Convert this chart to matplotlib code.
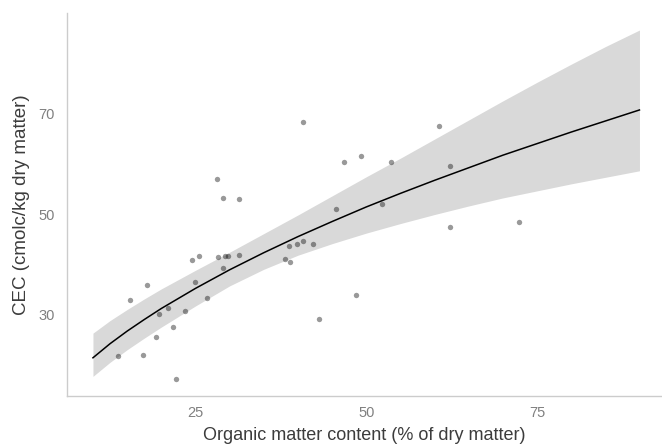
import matplotlib
matplotlib.use("Agg")
import matplotlib.pyplot as plt

# observed points: organic matter (% dry matter) vs CEC (cmolc/kg dry matter)
om = [13.65, 17.31, 15.37, 17.89, 19.21, 19.62, 21.04, 21.70, 22.18, 23.50,
      24.48, 25.59, 24.92, 26.69, 28.33, 29.11, 29.39, 29.82, 31.41, 28.23,
      29.02, 31.36, 40.73, 38.07, 38.65, 38.87, 39.94, 40.75, 42.14, 43.05,
      45.65, 46.68, 49.27, 48.46, 52.30, 53.70, 60.59, 62.20, 62.20, 72.44]
cec = [21.69, 22.05, 32.82, 35.81, 25.63, 30.08, 31.27, 27.50, 17.18, 30.80,
       40.87, 41.71, 36.50, 33.38, 41.41, 39.34, 41.57, 41.71, 41.93, 56.92,
       53.20, 53.06, 68.31, 41.13, 43.66, 40.42, 44.12, 44.65, 44.12, 29.15,
       51.01, 60.42, 61.55, 33.92, 52.01, 60.42, 67.51, 59.50, 47.38, 48.43]

# fitted curve and confidence band
fit_x = [10, 12.5, 15, 17.5, 20, 25, 30, 35, 40, 45, 50, 55, 60, 65, 70,
         75, 80, 85, 90]
fit_y = [21.4, 24.2, 26.7, 29.0, 31.2, 35.2, 38.9, 42.3, 45.5, 48.5, 51.4,
         54.1, 56.7, 59.2, 61.7, 64.0, 66.3, 68.5, 70.7]
band_hi = [26.3, 28.8, 31.0, 33.1, 35.1, 38.8, 42.4, 46.1, 49.8, 53.6, 57.4,
           61.1, 64.9, 68.7, 72.5, 76.2, 79.8, 83.3, 86.6]
band_lo = [17.7, 20.5, 23.0, 25.3, 27.5, 31.7, 35.7, 39.0, 41.8, 44.1, 46.2,
           48.1, 49.9, 51.6, 53.2, 54.6, 56.0, 57.3, 58.6]

x_ticks = [25, 50, 75]
y_ticks = [30, 50, 70]

plt.rcParams["font.family"] = ["Liberation Sans", "DejaVu Sans"]

fig = plt.figure(figsize=(6.62, 4.48), dpi=100)
ax = fig.add_axes([0.1012, 0.1161, 0.8988, 0.855])

ax.fill_between(fit_x, band_lo, band_hi, color="#d9d9d9", lw=0, zorder=1)
ax.scatter(om, cec, s=15, color="black", alpha=0.4, lw=0, zorder=2)
ax.plot(fit_x, fit_y, color="black", lw=1.1, zorder=3)

ax.set_xlim(6.2, 93.3)
ax.set_ylim(13.8, 90.0)
ax.set_xticks(x_ticks)
ax.set_yticks(y_ticks)
ax.tick_params(length=0, labelsize=10.5, labelcolor="#808080")
ax.tick_params(axis="x", pad=7)
ax.tick_params(axis="y", pad=9)

for side in ("top", "right"):
    ax.spines[side].set_visible(False)
for side in ("left", "bottom"):
    ax.spines[side].set_color("#cccccc")
    ax.spines[side].set_linewidth(1.0)

ax.set_xlabel("Organic matter content (% of dry matter)", fontsize=13,
              color="#3c3c3c", labelpad=5)
ax.set_ylabel("CEC (cmolc/kg dry matter)", fontsize=13.5, color="#3c3c3c",
              labelpad=6)

fig.savefig("out.png", dpi=100)
